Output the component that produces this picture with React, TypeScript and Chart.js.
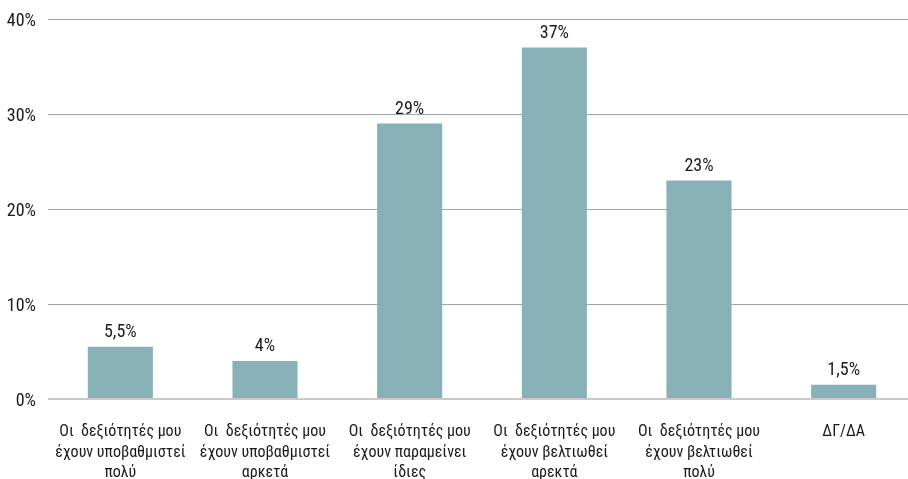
import React, { useEffect, useRef } from "react";
import { Chart, registerables } from "chart.js";

Chart.register(...registerables);

const categories: string[][] = [
  ["Οι  δεξιότητές μου", "έχουν υποβαθμιστεί", "πολύ"],
  ["Οι  δεξιότητές μου", "έχουν υποβαθμιστεί", "αρκετά"],
  ["Οι  δεξιότητές μου", "έχουν παραμείνει", "ίδιες"],
  ["Οι  δεξιότητές μου", "έχουν βελτιωθεί", "αρεκτά"],
  ["Οι  δεξιότητές μου", "έχουν βελτιωθεί", "πολύ"],
  ["ΔΓ/ΔΑ"],
];
const values: number[] = [5.5, 4, 29, 37, 23, 1.5];
const yTicks: number[] = [0, 10, 20, 30, 40];

const FONT = '"Roboto Condensed", sans-serif';
const TEXT = "#1a1a1a";
const BAR = "#88b0b7";

const fmt = (v: number) => String(v).replace(".", ",") + "%";

const valueLabelPlugin = {
  id: "valueLabels",
  afterDatasetsDraw(chart: any) {
    const ctx = chart.ctx;
    const meta = chart.getDatasetMeta(0);
    ctx.save();
    ctx.font = `18px ${FONT}`;
    ctx.fillStyle = TEXT;
    ctx.textAlign = "center";
    ctx.textBaseline = "alphabetic";
    meta.data.forEach((bar: any, i: number) => {
      ctx.fillText(fmt(values[i]), bar.x, bar.y - 10);
    });
    ctx.restore();
  },
};

export default function App() {
  const ref = useRef<HTMLCanvasElement>(null);
  useEffect(() => {
    if (!ref.current) return;
    const chart = new Chart(ref.current, {
      type: "bar",
      data: {
        labels: categories,
        datasets: [
          {
            data: values,
            backgroundColor: BAR,
            borderWidth: 0,
            categoryPercentage: 1,
            barPercentage: 0.45,
          },
        ],
      },
      options: {
        responsive: false,
        animation: false,
        devicePixelRatio: 1,
        layout: { padding: { top: 19, left: 0, right: 0, bottom: 0 } },
        plugins: {
          legend: { display: false },
          tooltip: { enabled: false },
        },
        scales: {
          x: {
            grid: { display: false, drawTicks: false },
            border: { display: false },
            ticks: {
              color: TEXT,
              font: { family: FONT, size: 16, lineHeight: 1.28 },
              padding: 23,
              maxRotation: 0,
              autoSkip: false,
            },
            afterFit: (scale: any) => {
              scale.height = 80;
              scale.paddingLeft = 0;
              scale.paddingRight = 0;
            },
          },
          y: {
            min: 0,
            max: 40,
            afterBuildTicks: (scale: any) => {
              scale.ticks = yTicks.map((v) => ({ value: v }));
            },
            grid: {
              drawTicks: false,
              color: (c: any) => (c.tick && c.tick.value === 0 ? "#c9c9c9" : "#a3a3a3"),
              lineWidth: (c: any) => (c.tick && c.tick.value === 0 ? 2 : 1),
            },
            border: { display: false },
            ticks: {
              color: TEXT,
              font: { family: FONT, size: 18 },
              padding: 12,
              labelOffset: 2,
              callback: (v: any) => v + "%",
            },
            afterFit: (scale: any) => {
              scale.width = 48;
              scale.paddingTop = 0;
              scale.paddingBottom = 0;
            },
          },
        },
      },
      plugins: [valueLabelPlugin],
    });
    return () => chart.destroy();
  }, []);
  return (
    <div
      style={{
        position: "absolute",
        left: 0,
        top: 0,
        width: 908,
        height: 479,
        overflow: "hidden",
        background: "#fff",
      }}
    >
      <canvas ref={ref} width={916} height={479} style={{ display: "block" }} />
    </div>
  );
}
